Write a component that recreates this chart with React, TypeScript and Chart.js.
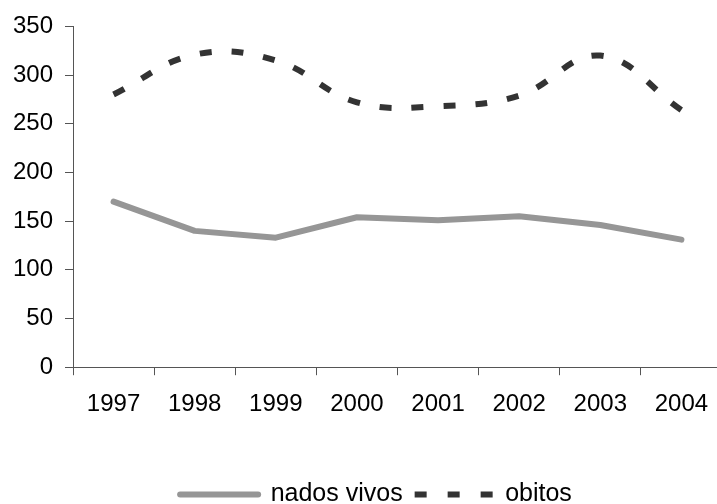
import React, { useEffect, useRef } from "react";
import { Chart, registerables } from "chart.js";

Chart.register(...registerables);

const categories = ["1997", "1998", "1999", "2000", "2001", "2002", "2003", "2004"];
const nadosVivos = [170, 140, 133, 154, 151, 155, 146, 131];
const obitos = [280, 321, 315, 272, 268, 279, 320, 264];
const yTicks = [0, 50, 100, 150, 200, 250, 300, 350];

const grayColor = "#969696";
const darkColor = "#333333";

export default function App() {
  const ref = useRef<HTMLCanvasElement | null>(null);
  useEffect(() => {
    if (!ref.current) return;
    const family = "'Liberation Sans', Arial, sans-serif";
    const font = { family, size: 24 };
    const chart = new Chart(ref.current, {
      type: "line",
      data: {
        labels: categories,
        datasets: [
          {
            label: "nados vivos",
            data: nadosVivos,
            borderColor: grayColor,
            backgroundColor: grayColor,
            borderWidth: 6,
            pointRadius: 0,
            tension: 0,
            borderCapStyle: "round",
            borderJoinStyle: "round",
            yAxisID: "y",
          },
          {
            label: "obitos",
            data: obitos,
            borderColor: darkColor,
            backgroundColor: darkColor,
            borderWidth: 6,
            borderDash: [12, 20],
            pointRadius: 0,
            tension: 0.4,
            yAxisID: "y",
          },
        ],
      },
      options: {
        responsive: false,
        animation: false,
        layout: { padding: { left: 0, right: 0, top: 14, bottom: 0 } },
        plugins: {
          tooltip: { enabled: false },
          legend: {
            position: "bottom",
            labels: {
              font: { family, size: 25 },
              color: "#000",
              usePointStyle: true,
              pointStyle: "line",
              pointStyleWidth: 78,
              padding: 12,
              generateLabels: (c: any) => {
                const items = (Chart as any).defaults.plugins.legend.labels.generateLabels(c);
                items.forEach((it: any, i: number) => {
                  const ds = c.data.datasets[i];
                  it.lineWidth = 6;
                  it.strokeStyle = ds.borderColor;
                  it.fillStyle = ds.borderColor;
                  it.lineDash = i === 1 ? [12, 21] : [];
                  it.lineCap = i === 1 ? "butt" : "round";
                  it.pointStyle = "line";
                });
                return items;
              },
            },
          },
        },
        scales: {
          x: {
            offset: true,
            grid: {
              offset: true,
              drawOnChartArea: false,
              drawTicks: true,
              tickLength: 8,
              color: "#555",
            },
            border: { color: "#555", width: 1 },
            ticks: { font, color: "#000", padding: 15, maxRotation: 0 },
            afterFit: (scale: any) => {
              scale.height += 36;
            },
          },
          y: {
            min: 0,
            max: 350,
            afterBuildTicks: (scale: any) => {
              scale.ticks = yTicks.map((v) => ({ value: v }));
            },
            grid: {
              drawOnChartArea: false,
              drawTicks: true,
              tickLength: 8,
              color: "#555",
            },
            border: { color: "#555", width: 1 },
            ticks: { font, color: "#000", padding: 12 },
            afterFit: (scale: any) => {
              scale.width = 73;
            },
          },
          yRight: {
            type: "linear",
            position: "right",
            display: true,
            grid: { display: false },
            border: { display: false },
            ticks: { display: false },
            afterFit: (scale: any) => {
              scale.width = 30;
            },
          },
        },
      },
    });
    return () => chart.destroy();
  }, []);
  return (
    <div
      style={{
        position: "fixed",
        left: 0,
        top: 0,
        width: 717,
        height: 504,
        overflow: "hidden",
        background: "#fff",
      }}
    >
      <canvas ref={ref} width={752} height={517} style={{ display: "block" }} />
    </div>
  );
}
